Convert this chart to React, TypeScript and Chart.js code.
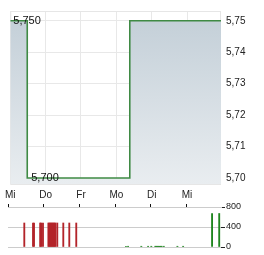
import React, { useEffect, useRef } from "react";
import { Chart, registerables } from "chart.js";

Chart.register(...registerables);

const FONT = 'Arial, "Liberation Sans", sans-serif';

// x values are in trading days since the first "Mi"
const dayLabels = ["Mi", "Do", "Fr", "Mo", "Di", "Mi"];
const dayTicks = [0, 1, 2, 3, 4, 5];
const xMax = 5.96;

const priceTimes = [0, 0.48, 3.38, 5.96];
const priceValues = [5.75, 5.7, 5.75, 5.75];
const priceTicks = [5.7, 5.71, 5.72, 5.73, 5.74, 5.75];
const priceMin = 5.6981;
const priceMax = 5.7531;

const redVolTimes = [0.456, 0.7, 0.728, 0.9, 0.93, 0.979, 1.13, 1.158, 1.186, 1.214, 1.242, 1.27, 1.298, 1.326, 1.379, 1.547, 1.715, 1.91];
const redVolValues = [480, 480, 480, 480, 480, 480, 480, 480, 480, 480, 480, 480, 480, 480, 480, 480, 480, 480];

const greenVolTimes = [3.3, 3.36, 3.73, 3.92, 4.01, 4.12, 4.15, 4.18, 4.21, 4.24, 4.27, 4.3, 4.36, 4.74, 4.9, 5.71, 5.91];
const greenVolValues = [15, 15, 15, 15, 15, 15, 15, 15, 15, 15, 15, 15, 15, 15, 15, 670, 670];
const volTicks = [0, 400, 800];

const fmtPrice = (v: number, d: number) => v.toFixed(d).replace(".", ",");

export default function App() {
  const priceRef = useRef<HTMLCanvasElement>(null);
  const volRef = useRef<HTMLCanvasElement>(null);

  useEffect(() => {
    Chart.defaults.font.family = FONT;

    const borderPlugin = {
      id: "plotBorder",
      beforeDatasetsDraw(chart: any) {
        const { ctx, chartArea: a } = chart;
        ctx.save();
        ctx.strokeStyle = "#e6e6e6";
        ctx.lineWidth = 1;
        ctx.strokeRect(a.left + 0.5, a.top + 0.5, a.right - a.left - 1, a.bottom - a.top);
        ctx.restore();
      },
    };

    const extremaPlugin = {
      id: "extrema",
      afterDatasetsDraw(chart: any) {
        const { ctx } = chart;
        const xs = chart.scales.x;
        const ys = chart.scales.y;
        let iMax = 0;
        let iMin = 0;
        priceValues.forEach((v, i) => {
          if (v > priceValues[iMax]) iMax = i;
          if (v < priceValues[iMin]) iMin = i;
        });
        ctx.save();
        ctx.font = `11px ${FONT}`;
        ctx.fillStyle = "#111";
        ctx.textBaseline = "middle";
        ctx.textAlign = "left";
        ctx.fillText(fmtPrice(priceValues[iMax], 3), xs.getPixelForValue(priceTimes[iMax]) + 3, ys.getPixelForValue(priceValues[iMax]));
        ctx.fillText(fmtPrice(priceValues[iMin], 3), xs.getPixelForValue(priceTimes[iMin]) + 4, ys.getPixelForValue(priceValues[iMin]));
        ctx.restore();
      },
    };

    const priceChart = new Chart(priceRef.current!, {
      type: "line",
      data: {
        datasets: [
          {
            data: priceTimes.map((t, i) => ({ x: t, y: priceValues[i] })),
            stepped: "before",
            borderColor: "#3f8a44",
            borderWidth: 1.6,
            pointRadius: 0,
            fill: "start",
            backgroundColor: (c: any) => {
              const ca = c.chart.chartArea;
              if (!ca) return "#d5dde3";
              const g = c.chart.ctx.createLinearGradient(0, ca.top, 0, ca.bottom);
              g.addColorStop(0, "#c2ced7");
              g.addColorStop(1, "#e9edf0");
              return g;
            },
          },
        ],
      },
      options: {
        animation: false,
        responsive: false,
        events: [],
        layout: { padding: { left: 8, top: 7, right: 0, bottom: 0 } },
        plugins: { legend: { display: false }, tooltip: { enabled: false } },
        scales: {
          x: {
            type: "linear",
            min: 0,
            max: xMax,
            afterBuildTicks: (s: any) => {
              s.ticks = dayTicks.map((v) => ({ value: v }));
            },
            afterFit: (s: any) => {
              s.height = 16;
            },
            grid: { color: "#e8e8e8", drawTicks: false },
            border: { display: false },
            ticks: {
              autoSkip: false,
              maxRotation: 0,
              padding: 5,
              color: "#222",
              font: { size: 10 },
              callback: (v: any) => dayLabels[dayTicks.indexOf(Number(v))] ?? "",
            },
          },
          y: {
            position: "right",
            min: priceMin,
            max: priceMax,
            afterBuildTicks: (s: any) => {
              s.ticks = priceTicks.map((v) => ({ value: v }));
            },
            afterFit: (s: any) => {
              s.width = 43;
            },
            grid: { color: "#e8e8e8", drawTicks: false },
            border: { display: false },
            ticks: {
              padding: 5,
              color: "#222",
              font: { size: 10 },
              callback: (v: any) => fmtPrice(Number(v), 2),
            },
          },
        },
      },
      plugins: [borderPlugin, extremaPlugin],
    });

    const volChart = new Chart(volRef.current!, {
      type: "bar",
      data: {
        datasets: [
          {
            data: redVolTimes.map((t, i) => ({ x: t, y: redVolValues[i] })),
            backgroundColor: "#b3242a",
            barThickness: 1.2,
            grouped: false,
          } as any,
          {
            data: greenVolTimes.map((t, i) => ({ x: t, y: greenVolValues[i] })),
            backgroundColor: "#1f861f",
            barThickness: 1.2,
            grouped: false,
          } as any,
        ],
      },
      options: {
        animation: false,
        responsive: false,
        events: [],
        layout: { padding: { left: 8, top: 0, right: 0, bottom: 8 } },
        plugins: { legend: { display: false }, tooltip: { enabled: false } },
        scales: {
          x: {
            type: "linear",
            position: "top",
            min: 0,
            max: xMax,
            offset: false,
            afterBuildTicks: (s: any) => {
              s.ticks = dayTicks.map((v) => ({ value: v }));
            },
            afterFit: (s: any) => {
              s.height = 7;
            },
            grid: { drawOnChartArea: false, drawTicks: true, tickLength: 3, tickColor: "#111", offset: false },
            border: { display: true, color: "#cccccc" },
            ticks: { display: false },
          },
          y: {
            position: "right",
            min: 0,
            max: 800,
            afterBuildTicks: (s: any) => {
              s.ticks = volTicks.map((v) => ({ value: v }));
            },
            afterFit: (s: any) => {
              s.width = 43;
            },
            grid: { color: "#cccccc", drawTicks: true, tickLength: 4, tickColor: "#222" },
            border: { display: false },
            ticks: { padding: 1, color: "#222", font: { size: 9 } },
          },
        },
      },
    });

    return () => {
      priceChart.destroy();
      volChart.destroy();
    };
  }, []);

  return (
    <div style={{ position: "fixed", left: 0, top: 0, width: 264, height: 255, background: "#fff" }}>
      <canvas ref={priceRef} width={264} height={200} style={{ position: "absolute", left: 0, top: 0 }} />
      <canvas ref={volRef} width={264} height={55} style={{ position: "absolute", left: 0, top: 200 }} />
    </div>
  );
}
